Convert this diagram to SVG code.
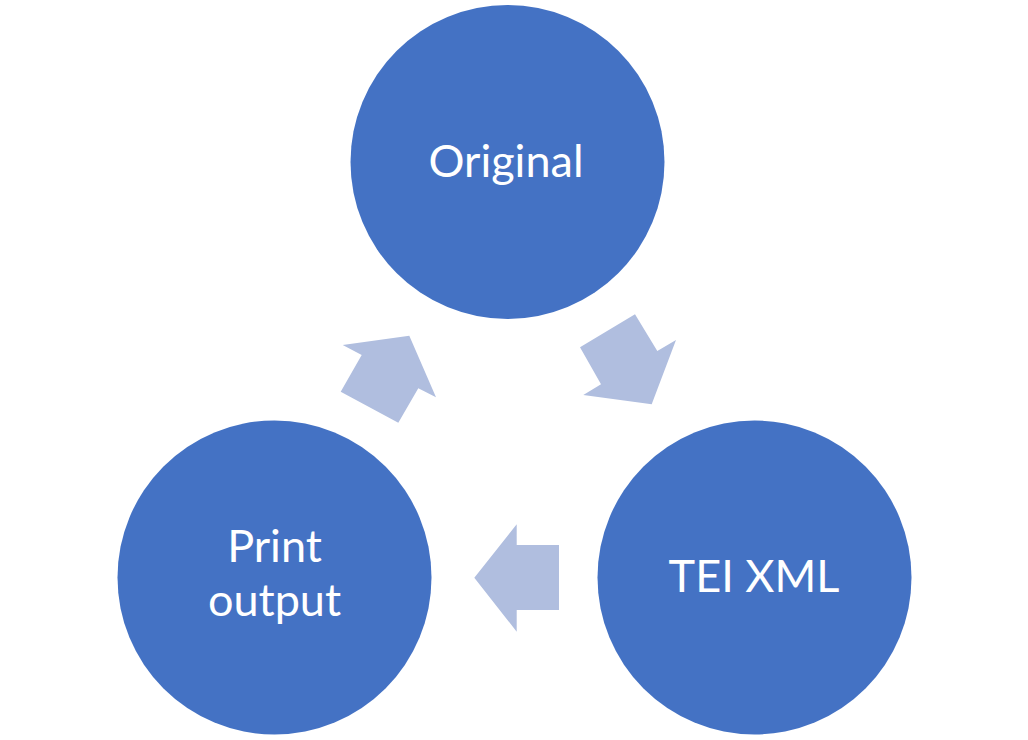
<svg xmlns="http://www.w3.org/2000/svg" width="1028" height="740" viewBox="0 0 1028 740">
<style>
.node{fill:#4472C4}
.lbl{font-family:Lato,"Open Sans","Liberation Sans",sans-serif;font-size:45px;fill:#FFFFFF;text-anchor:middle}
.arr{fill:#B0BEDF}
</style>
<rect width="1028" height="740" fill="#FFFFFF"/>
<g id="connectors">
<polygon class="arr" points="580,347.3 635,314.3 657.3,351 676,340 651.7,404.3 583.3,395 601,384.3"/>
<polygon class="arr" points="474.3,577.7 516.7,524.3 516.7,545 559,545 559,610 516.7,610 516.7,631.7"/>
<polygon class="arr" points="342.7,345 409.3,335.7 436,397.3 418.3,388.3 398.3,422.7 340.7,391.7 361.7,355"/>
</g>
<g id="node-original">
<circle class="node" cx="507.5" cy="162" r="157"/>
<text class="lbl" x="506" y="176.7">Original</text>
</g>
<g id="node-tei">
<circle class="node" cx="754.5" cy="577.5" r="157"/>
<text class="lbl" x="754" y="592.3">TEI XML</text>
</g>
<g id="node-print">
<circle class="node" cx="274.5" cy="577.5" r="157"/>
<text class="lbl" x="274.5" y="561.7">Print</text>
<text class="lbl" x="274.5" y="615.5">output</text>
</g>
</svg>
